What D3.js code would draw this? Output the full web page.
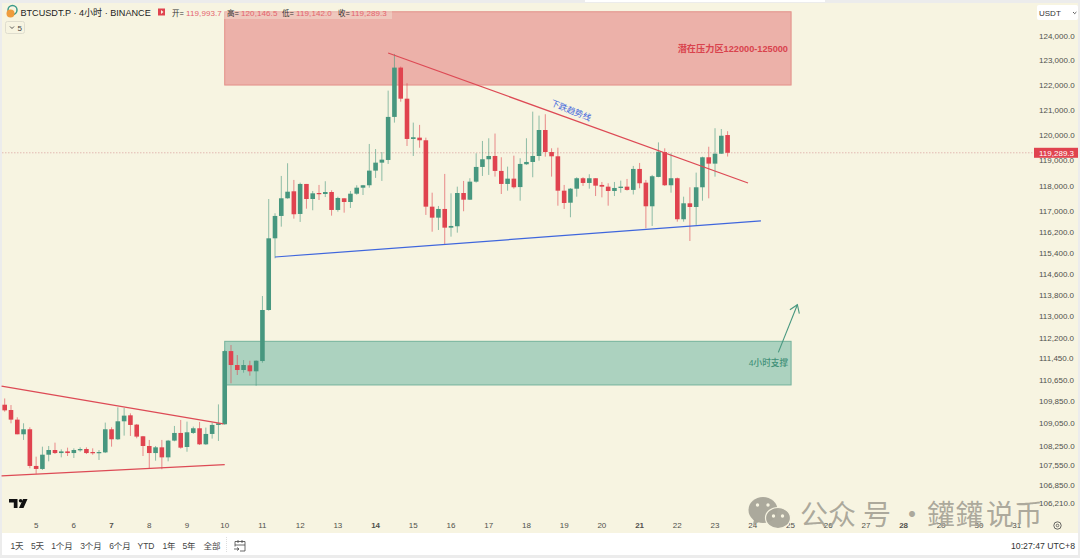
<!DOCTYPE html>
<html>
<head>
<meta charset="utf-8">
<style>
html, body { margin: 0; padding: 0; background: #ececec; }
svg { display: block; font-family: "Liberation Sans", "Noto Sans CJK SC", sans-serif; }
</style>
<script src="https://cdnjs.cloudflare.com/ajax/libs/d3/7.8.5/d3.min.js"></script>
</head>
<body>
<svg id="mainframe" width="1080" height="558"></svg>
<script>
// 4h candles, first bar is 4 Jul 20:00
var opens = [109729,109536,109187,108658,108839,107523,107416,107925,108093,107984,108043,107984,108081,108129,108020,107996,108008,108839,108478,109127,109344,109007,108586,108237,107984,108189,107830,108430,108706,108201,108706,108875,108297,108670,108995,109020,
  111698,111183,110999,111172,110951,111330,113230,115954,116817,117503,117776,116894,118063,117475,117709,117670,117748,117049,117503,117359,117682,117917,118012,118586,118900,119006,120717,122707,121449,119838,119890,119786,117177,116751,117088,116364,116418,117709,117448,118153,118731,119034,
  119163,118574,118063,118271,117941,118837,118927,119163,120194,119320,119151,117800,117331,117878,118287,118102,118287,118024,117957,117788,117906,117957,117830,118652,118114,117192,118338,119320,118012,118287,116689,117308,117165,117933,119112,118861,119254,119993.7];
var highs = [109957,109717,109272,109055,108911,107854,108213,108237,108357,108117,108177,108153,108189,108189,108153,108093,109079,108911,109633,109609,109416,109031,108598,108454,108237,108454,108454,108959,109175,109115,108935,109103,108899,109079,109741,111735,
  111922,111551,111367,111341,111356,113756,117475,116921,118377,118876,118220,118114,118063,117788,118024,118169,117815,117564,117503,117788,118012,118024,119639,119438,119320,121774,123264,122748,122074,120489,120398,119890,117721,117204,118456,117697,117957,118181,118287,119269,119758,119865,
  120053,119112,118743,119175,119073,119865,120928,120769,120824,119467,119491,118024,117902,118326,118326,118444,118287,118141,118090,118141,118193,118259,118770,118888,118220,118416,119702,119467,119269,118312,117566,117933,118507,119136,119529,120266,120233,120146.5];
var lows = [109476,109055,108658,108454,107440,107239,107381,107688,107949,107830,107878,107807,108031,107949,107925,107736,107984,108213,108454,108610,108598,108514,107878,107440,107712,107405,107688,108406,108141,108031,108670,108273,108273,108502,108418,109000,
  110510,110815,110900,110789,110421,111268,113204,115188,116403,117487,116712,116584,117099,117037,117436,117552,116828,116983,116945,117126,117643,117631,117917,118299,118181,118849,120489,121327,119559,119163,119490,116855,116209,116275,115697,116018,116172,116999,117436,118114,118377,118417,
  118350,117670,117800,117878,117409,118810,118326,118978,119136,118350,117215,117088,116766,117566,117985,117878,117591,117540,117215,117591,117721,117803,117651,117894,116340,116430,118326,117985,117721,116596,116596,115851,116469,117409,117502,118350,119242,119142.0];
var closes = [109524,109187,108658,108839,107523,107416,107925,108093,107984,108043,107984,108093,108129,107984,107996,108020,108839,108478,109127,109332,108995,108574,108237,107984,108189,107830,108430,108706,108177,108730,108875,108297,108670,108995,109055,111698,
  111183,110999,111183,110951,111341,113230,115954,116817,117503,117760,116883,118063,117475,117697,117670,117748,117049,117515,117359,117682,117917,118012,118586,118900,119018,120717,122707,121449,119838,119905,119786,117177,116751,117088,116364,116430,117709,117448,118153,118731,119034,119163,
  118574,118063,118271,117933,118849,118927,119163,120194,119320,119151,117800,117320,117878,118287,118102,118287,117996,117957,117788,117906,117957,117830,118652,118090,117192,118366,119332,118012,118287,116689,117308,117165,117933,119112,118861,119254,119966,119289.3];

var priceTicks = [124000,123000,122000,121000,120000,119000,118000,117000,116200,115400,114600,113800,113000,112200,111450,110650,109850,109050,108250,107550,106850,106210];
var dayLabels = [5,6,7,8,9,10,11,12,13,14,15,16,17,18,19,20,21,22,23,24,25,26,27,28,29,30,31];
var boldDays = [7,14,21,28];
var rangeLabels = [['1天',17],['5天',37.5],['1个月',62],['3个月',91],['6个月',120],['YTD',146],['1年',169],['5年',189],['全部',212]];
var legendItems = [['开=',172,'119,993.7',186],['高=',227,'120,146.5',241],['低=',282,'119,142.0',296],['收=',338,'119,289.3',351]];

// drawings, as [bar index, price]
var redZone = {x0: 35, x1: 125.1, top: 125000, bottom: 122000};
var greenZone = {x0: 35, x1: 125.1, top: 112060, bottom: 110450};
var downLine = [[61,123304],[118.25,118102]];
var blueLine = [[43,115237],[120.3,116623]];
var oldTop = [[-0.5,110410],[34.8,109031]];
var oldBottom = [[-0.5,107168],[35,107570]];
var arrowLine = [[123.07,111650],[126.1,113428]];
var lastPrice = 119289.3;

//set colors
var upCol = '#47977f';
var downCol = '#e0434f';
var bgCol = '#f7f4e1';
var axisCol = '#50504c';
var blueCol = '#3f66dd';

var svg = d3.select('#mainframe');

// price axis is log
var y = d3.scaleLog().domain([124000,106210]).range([36,503]);
var x = d3.scaleLinear().domain([0,115]).range([4.7,727.6]);
var dayX = function(d) { return x(5 + (d - 5) * 6); };
var fmt = d3.format(',.1f');

// frame
svg.append('rect').attr('width',1080).attr('height',558).attr('fill','#ececec');
svg.append('rect').attr('x',585).attr('y',0).attr('width',240).attr('height',2).attr('fill','#fff');
svg.append('rect').attr('x',2).attr('y',3).attr('width',1076).attr('height',530).attr('fill',bgCol);
svg.append('rect').attr('x',2).attr('y',533).attr('width',1076).attr('height',22).attr('fill','#fff');

// zones
function zone(z, fill, stroke) {
  svg.append('rect')
    .attr('x',x(z.x0)).attr('y',y(z.top))
    .attr('width',x(z.x1)-x(z.x0)).attr('height',y(z.bottom)-y(z.top))
    .attr('fill',fill).attr('stroke',stroke).attr('stroke-width',1);
}
zone(redZone,'#ecb1a9','#e39089');
zone(greenZone,'#acd2bf','#74b29c');

// last price line
svg.append('line')
  .attr('x1',2).attr('x2',1034).attr('y1',y(lastPrice)).attr('y2',y(lastPrice))
  .attr('stroke','#d9a09c').attr('stroke-width',0.7).attr('stroke-dasharray','1.5,1.5');

// candles
var candles = d3.range(opens.length);
var candleGroup = svg.append('g').attr('class','candles');
candleGroup.selectAll('line').data(candles).enter().append('line')
  .attr('x1',function(i){return x(i);}).attr('x2',function(i){return x(i);})
  .attr('y1',function(i){return y(highs[i]);}).attr('y2',function(i){return y(lows[i]);})
  .attr('stroke',function(i){return closes[i]>=opens[i]?upCol:downCol;})
  .attr('stroke-width',1).attr('stroke-opacity',0.6);
candleGroup.selectAll('rect').data(candles).enter().append('rect')
  .attr('x',function(i){return x(i)-2.3;}).attr('width',4.6)
  .attr('y',function(i){return y(Math.max(opens[i],closes[i]));})
  .attr('height',function(i){return Math.max(1.2,y(Math.min(opens[i],closes[i]))-y(Math.max(opens[i],closes[i])));})
  .attr('fill',function(i){return closes[i]>=opens[i]?upCol:downCol;});

// trend lines
var trend = d3.line().x(function(d){return x(d[0]);}).y(function(d){return y(d[1]);});
[[downLine,'#dd4a55'],[oldTop,'#dd4a55'],[oldBottom,'#dd4a55'],[blueLine,blueCol]].forEach(function(t){
  svg.append('path').attr('d',trend(t[0])).attr('fill','none').attr('stroke',t[1]).attr('stroke-width',1.2);
});

// arrow
var tip = [x(arrowLine[1][0]),y(arrowLine[1][1])];
var ang = Math.atan2(y(arrowLine[0][1])-tip[1],x(arrowLine[0][0])-tip[0]);
svg.append('path').attr('d',trend(arrowLine)).attr('fill','none').attr('stroke',upCol).attr('stroke-width',1.1);
svg.append('path')
  .attr('d','M'+(tip[0]+9*Math.cos(ang+0.6))+','+(tip[1]+9*Math.sin(ang+0.6))+'L'+tip[0]+','+tip[1]+'L'+(tip[0]+9*Math.cos(ang-0.6))+','+(tip[1]+9*Math.sin(ang-0.6)))
  .attr('fill','none').attr('stroke',upCol).attr('stroke-width',1.1);

// notes
svg.append('text').attr('x',788).attr('y',51.5).attr('text-anchor','end')
  .attr('font-size',9.2).attr('font-weight',600).attr('fill','#d9434d').text('潜在压力区122000-125000');
svg.append('text').attr('x',788).attr('y',366).attr('text-anchor','end')
  .attr('font-size',8.6).attr('font-weight',500).attr('fill','#3f9077').text('4小时支撑');
svg.append('text').attr('transform','translate(571,110.5) rotate(22)').attr('text-anchor','middle')
  .attr('dy','0.35em').attr('font-size',8.5).attr('fill',blueCol).text('下跌趋势线');

// price axis
var priceAxis = d3.axisRight(y).tickValues(priceTicks).tickFormat(fmt).tickSize(0).tickPadding(0);
var pa = svg.append('g').attr('transform','translate(1039,0)').call(priceAxis);
pa.select('.domain').remove();
pa.selectAll('text').attr('font-size',8).attr('fill',axisCol)
  .attr('font-family','"Liberation Sans", sans-serif');

// last price tag
svg.append('rect').attr('x',1034).attr('y',y(lastPrice)-5).attr('width',44).attr('height',10).attr('fill',downCol);
svg.append('text').attr('x',1039).attr('y',y(lastPrice)+2.9).attr('font-size',8)
  .attr('fill','#fff').text(fmt(lastPrice));

// USDT box
svg.append('rect').attr('x',1037).attr('y',5).attr('width',41).attr('height',15).attr('rx',2).attr('fill','#fff');
svg.append('text').attr('x',1039).attr('y',15.5).attr('font-size',8).attr('fill','#333').text('USDT');
svg.append('path').attr('d','M1073,12 l1.7,1.7 l1.7,-1.7').attr('fill','none').attr('stroke','#333').attr('stroke-width',0.8);

// time axis
svg.append('g').selectAll('text').data(dayLabels).enter().append('text')
  .attr('x',dayX).attr('y',528).attr('text-anchor','middle').attr('font-size',8)
  .attr('fill',axisCol)
  .attr('font-weight',function(d){return boldDays.indexOf(d)>=0?'bold':'normal';})
  .text(function(d){return d;});

// header
svg.append('circle').attr('cx',12.5).attr('cy',10).attr('r',4.5).attr('fill','none').attr('stroke','#3a9a8a').attr('stroke-width',1.5);
svg.append('circle').attr('cx',10.5).attr('cy',13.5).attr('r',4).attr('fill','#ef9c3d');
svg.append('text').attr('x',20.5).attr('y',16).attr('font-size',9.1).attr('fill','#222').text('BTCUSDT.P · 4小时 · BINANCE');
svg.append('path').attr('d','M158,8.5h7v7h-7z M161,10l2.5,2l-2.5,2z').attr('fill',downCol).attr('fill-rule','evenodd');
svg.append('rect').attr('x',224).attr('y',3).attr('width',168).attr('height',16).attr('fill',bgCol).attr('fill-opacity',0.35);
legendItems.forEach(function(d){
  svg.append('text').attr('x',d[1]).attr('y',15.5).attr('font-size',7.5).attr('fill','#333').text(d[0]);
  svg.append('text').attr('x',d[3]).attr('y',15.5).attr('font-size',8).attr('letter-spacing',0.1).attr('fill','#e4646d').text(d[2]);
});
svg.append('rect').attr('x',5.5).attr('y',21.5).attr('width',19).attr('height',12).attr('rx',2).attr('fill','none').attr('stroke','#dfddce');
svg.append('path').attr('d','M10,26.5 l2,2 l2,-2').attr('fill','none').attr('stroke','#444').attr('stroke-width',0.9);
svg.append('text').attr('x',17.5).attr('y',31).attr('font-size',8).attr('fill','#444').text('5');

// tv logo
svg.append('path').attr('d','M9,499h8.5v9h-3.7v-5.4h-4.8z M23,499h4.5l-4,9h-4.5z').attr('fill','#111');
svg.append('circle').attr('cx',20.6).attr('cy',500.8).attr('r',1.8).attr('fill','#111');

// bottom toolbar
rangeLabels.forEach(function(d){
  svg.append('text').attr('x',d[1]).attr('y',548.5).attr('text-anchor','middle').attr('font-size',8.5).attr('fill','#444').text(d[0]);
});
svg.append('line').attr('x1',226.5).attr('x2',226.5).attr('y1',537).attr('y2',552).attr('stroke','#ddd').attr('stroke-dasharray','1,1');
svg.append('path').attr('d','M235,541.5h10v9.5h-5 M235,541.5v5 M238,540v3 M242,540v3 M235,545h10 M234,549h5 M237,547.5l2,1.5l-2,1.5')
  .attr('fill','none').attr('stroke','#444').attr('stroke-width',0.8);
svg.append('text').attr('x',1075).attr('y',548.5).attr('text-anchor','end').attr('font-size',8.7).attr('fill','#333').text('10:27:47 UTC+8');
svg.append('circle').attr('cx',1057.5).attr('cy',525.5).attr('r',3.7).attr('fill','none').attr('stroke','#444').attr('stroke-width',0.8);
svg.append('circle').attr('cx',1057.5).attr('cy',525.5).attr('r',1.3).attr('fill','none').attr('stroke','#444').attr('stroke-width',0.7);

// watermark
var wm = svg.append('g').attr('fill','#a7a498').attr('fill-opacity',0.95);
wm.append('ellipse').attr('cx',763).attr('cy',510).attr('rx',14.5).attr('ry',13);
wm.append('path').attr('d','M754,519l-1,6l6,-3z');
wm.append('ellipse').attr('cx',778).attr('cy',518).attr('rx',12.5).attr('ry',10.5).attr('stroke',bgCol).attr('stroke-width',1.2);
[[757.5,505],[768,505],[773.5,516],[782.5,516]].forEach(function(e){
  svg.append('circle').attr('cx',e[0]).attr('cy',e[1]).attr('r',1.7).attr('fill',bgCol);
});
[['公',800],['众',828],['号',863],['·',898],['鑵',927],['鑵',955.5],['说',986],['币',1014.5]].forEach(function(c){
  wm.append('text').attr('x',c[1]).attr('y',525).attr('font-size',28).attr('font-family','"Noto Sans CJK SC", sans-serif').text(c[0]);
});
</script>
</body>
</html>
